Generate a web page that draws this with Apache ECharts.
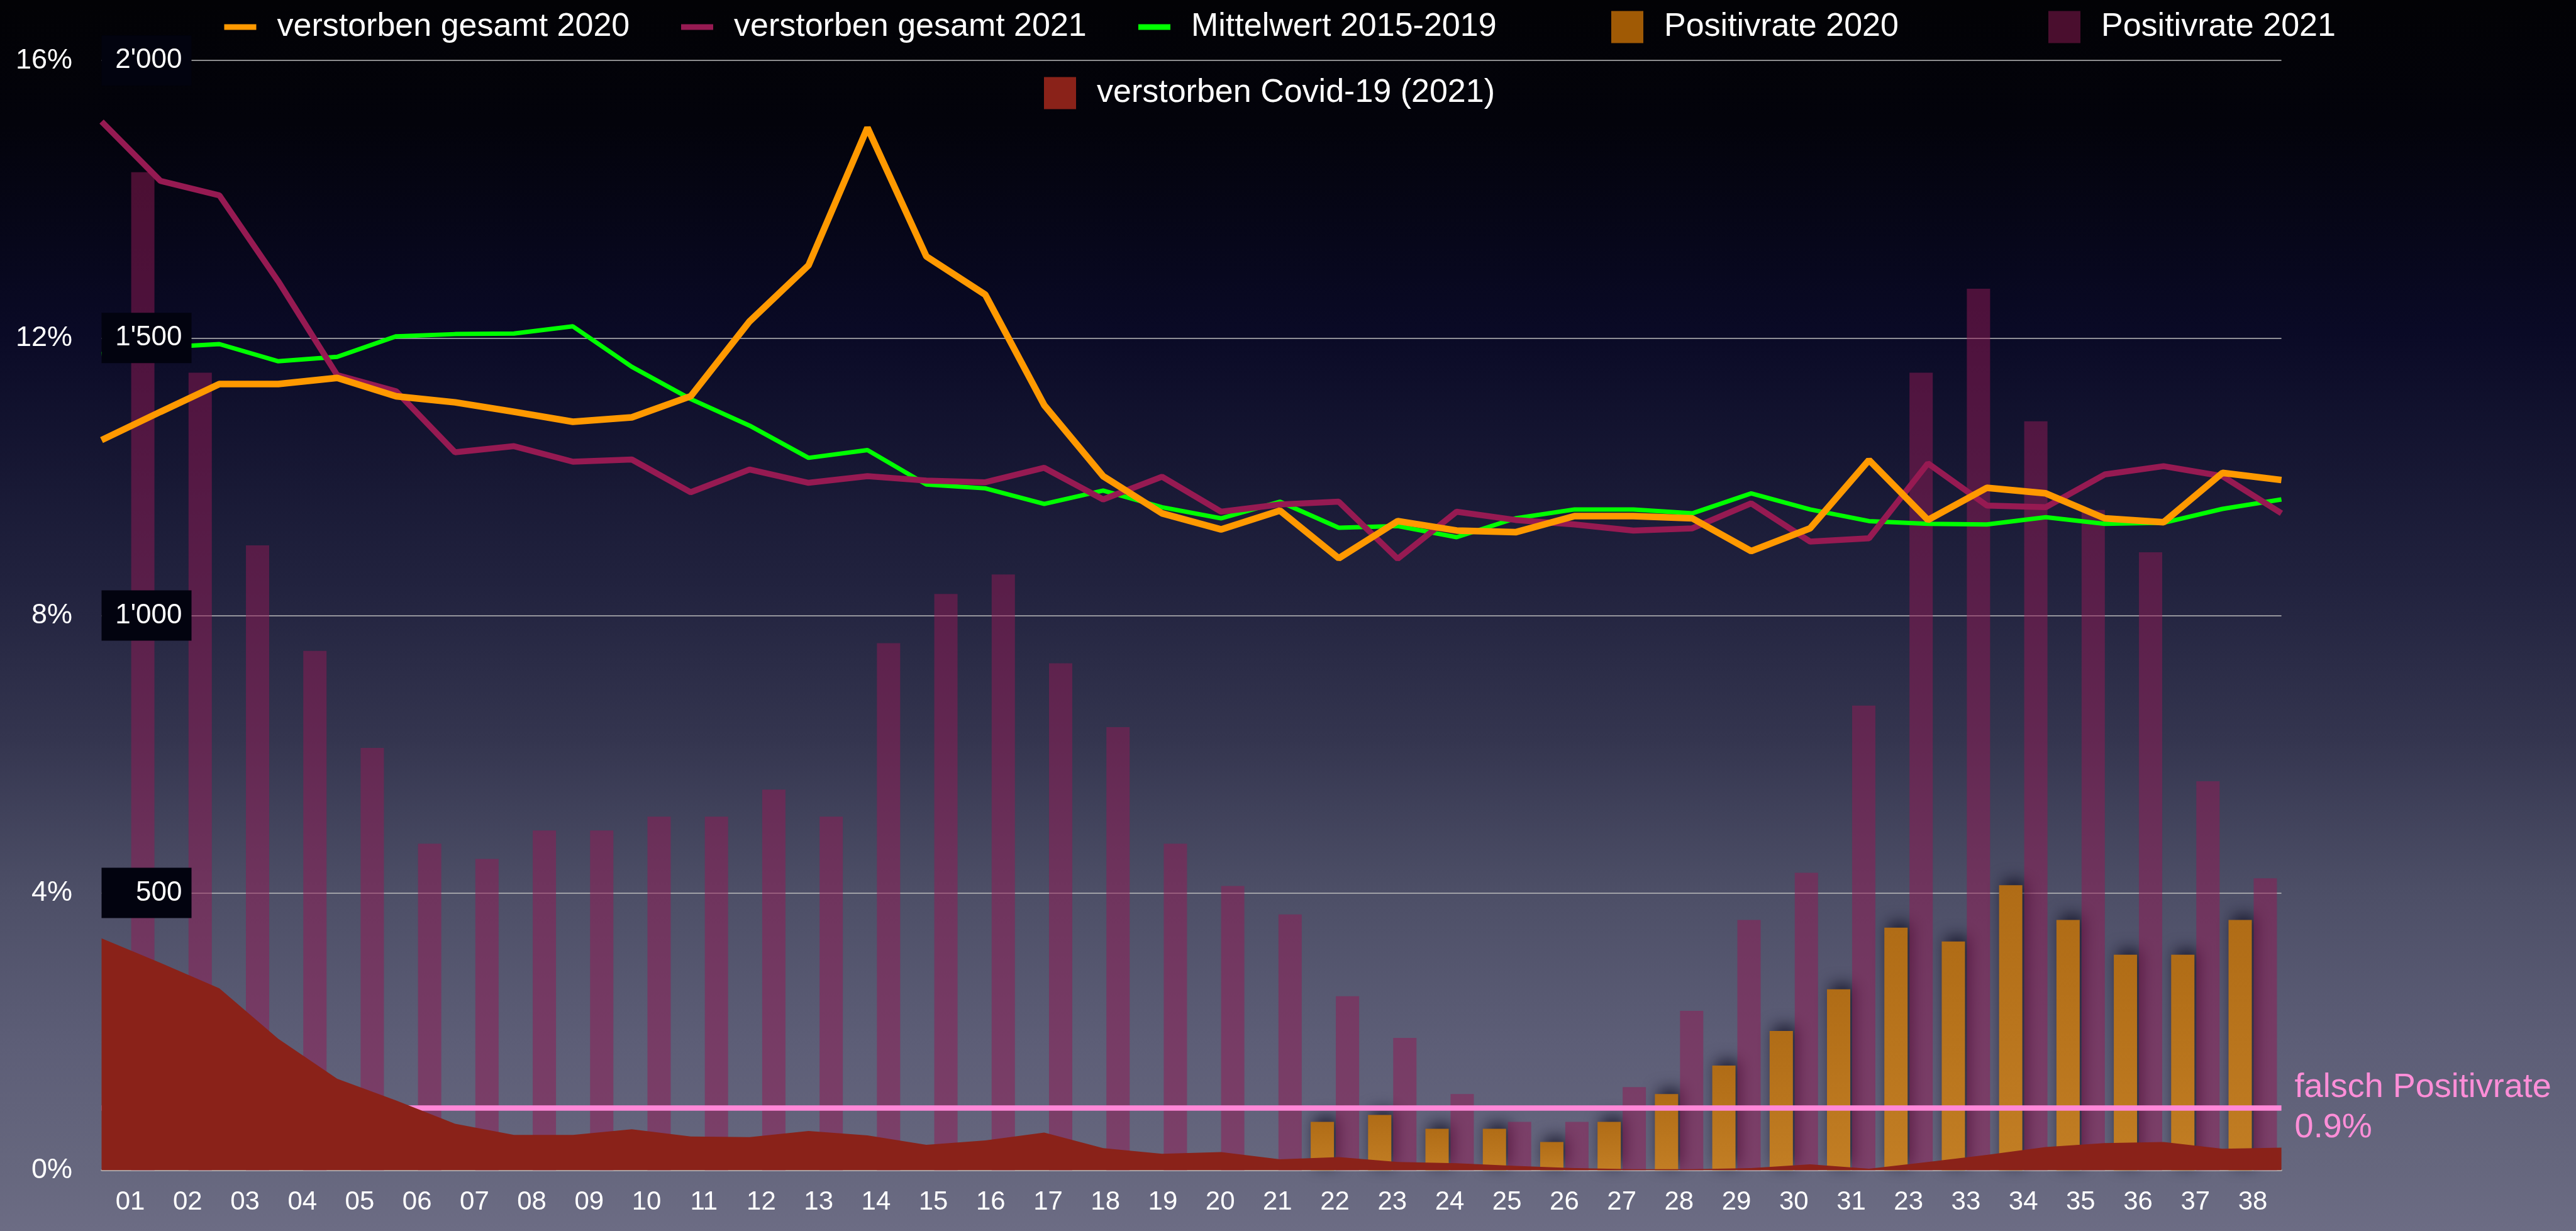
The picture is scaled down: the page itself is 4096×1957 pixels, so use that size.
<!DOCTYPE html>
<html>
<head>
<meta charset="utf-8">
<script src="https://cdn.jsdelivr.net/npm/echarts@6/dist/echarts.min.js"></script>
<style>
html,body{margin:0;padding:0;overflow:hidden;}
#c{width:4096px;height:1957px;background:linear-gradient(to bottom,#020205 0%,#03030b 10%,#0a0a26 27%,#22233f 48%,#34354f 60%,#4c4e66 72%,#5d5e77 85%,#66677e 95%,#6c6c84 100%);}
</style>
</head>
<body>
<div id="c"></div>
<script>
const weeks = ['01','02','03','04','05','06','07','08','09','10','11','12','13','14','15','16','17','18','19','20','21','22','23','24','25','26','27','28','29','30','31','23','33','34','35','36','37','38'];

const gesamt2020 = [1316,1367,1417,1417,1428,1395,1384,1367,1349,1357,1395,1530,1631,1879,1647,1578,1379,1251,1184,1155,1189,1103,1170,1153,1150,1179,1179,1175,1116,1157,1280,1172,1230,1220,1175,1168,1257,1244];
const gesamt2021 = [1890,1783,1757,1602,1433,1404,1294,1305,1277,1281,1222,1263,1239,1251,1243,1240,1266,1209,1250,1187,1200,1205,1102,1187,1172,1164,1153,1157,1202,1133,1139,1274,1198,1195,1254,1269,1251,1184];
const mittel1519 = [1471,1483,1489,1458,1466,1503,1507,1508,1521,1448,1390,1342,1284,1298,1236,1229,1201,1225,1195,1175,1205,1158,1161,1141,1175,1191,1191,1184,1220,1191,1170,1165,1164,1177,1165,1167,1192,1209];
const covid2021 = [418,374,328,237,165,126,84,64,64,74,61,60,71,63,46,54,68,40,30,33,20,24,15,13,8,4,2,2,4,11,3,15,28,42,49,51,39,41];
const pos2020 = [null,null,null,null,null,null,null,null,null,null,null,null,null,null,null,null,null,null,null,null,null,0.70,0.80,0.60,0.60,0.41,0.70,1.10,1.51,2.01,2.61,3.50,3.30,4.11,3.61,3.11,3.11,3.61];
const pos2021 = [14.39,11.5,9.01,7.49,6.09,4.71,4.49,4.90,4.90,5.10,5.10,5.49,5.10,7.60,8.31,8.59,7.31,6.39,4.71,4.10,3.69,2.51,1.91,1.10,0.70,0.70,1.20,2.30,3.61,4.29,6.70,11.50,12.71,10.80,9.52,8.91,5.61,4.21];
const falschPositiv = 0.9;

const FONT = '"Liberation Sans", Arial, Helvetica, sans-serif';

function fmtCount(v){
  if (v < 1000) return String(v);
  const t = Math.floor(v/1000), r = v % 1000;
  return t + "'" + String(r).padStart(3,'0');
}

const legendBase = {
  padding: 0,
  selectedMode: false,
  itemWidth: 51,
  textStyle: {color:'#ffffff', fontSize:52, fontFamily: FONT, padding:[0,0,0,28]}
};
function lg(name, left, top, h, extra){
  const d = Object.assign({name: name}, extra || {});
  return Object.assign({}, legendBase, {data:[d], left:left, top:top, itemHeight:h, icon:'rect'});
}

const chart = echarts.init(document.getElementById('c'), null, {renderer:'canvas'});
chart.setOption({
  animation: false,
  backgroundColor: 'transparent',
  legend: [
    lg('verstorben gesamt 2020', 356.5, 17, 9),
    lg('verstorben gesamt 2021', 1083, 17, 9),
    lg('Mittelwert 2015-2019', 1810, 17, 9),
    lg('Positivrate 2020', 2562, 17, 51, {itemStyle:{color:'#a05a05'}}),
    lg('Positivrate 2021', 3257, 17, 51, {itemStyle:{color:'#4a0e2e'}}),
    lg('verstorben Covid-19 (2021)', 1660, 122, 51)
  ],
  grid: {left:161.5, right:468.4, top:96.2, bottom:96.4},
  xAxis: [
    {type:'category', data:weeks, position:'bottom', boundaryGap:true,
     axisLine:{show:true, lineStyle:{color:'#b4b4b4', width:2.5}},
     axisTick:{show:false},
     axisLabel:{color:'#ffffff', fontSize:42, fontFamily:FONT, margin:30, interval:0}},
    {type:'category', data:weeks, position:'bottom', boundaryGap:false, show:false}
  ],
  yAxis: [
    {type:'value', position:'left', min:0, max:16, interval:4,
     axisLine:{show:false}, axisTick:{show:false},
     splitLine:{show:true, lineStyle:{color:'#bdbdbd', width:1.6}},
     axisLabel:{color:'#ffffff', fontSize:45, fontFamily:FONT, margin:46.5, formatter:'{value}%'}},
    {type:'value', position:'left', min:0, max:2000, interval:500, z:20,
     axisLine:{show:false}, axisTick:{show:false}, splitLine:{show:false},
     axisLabel:{inside:true, showMinLabel:false, margin:143, align:'right',
       color:'#ffffff', fontSize:44, fontFamily:FONT, lineHeight:44,
       backgroundColor:'#02030f', width:128, padding:[18,15,18,0],
       formatter: fmtCount}}
  ],
  series: [
    {name:'Positivrate 2020', type:'bar', xAxisIndex:0, yAxisIndex:0, data:pos2020,
     barWidth:37, barGap:'8%', z:2,
     itemStyle:{color:new echarts.graphic.LinearGradient(0,0,0,1,[{offset:0,color:'#b06c16'},{offset:1,color:'#c27e24'}]),
       shadowColor:'rgba(5,5,25,0.75)', shadowBlur:24, shadowOffsetX:6, shadowOffsetY:-8}},
    {name:'Positivrate 2021', type:'bar', xAxisIndex:0, yAxisIndex:0, data:pos2021,
     barWidth:37, barGap:'8%', z:2,
     itemStyle:{color:'rgba(145,25,84,0.5)'},
     markLine:{silent:true, symbol:'none', z:5, animation:false,
       data:[{yAxis:falschPositiv}],
       lineStyle:{color:'#ff88d8', width:8.6, type:'solid'},
       emphasis:{disabled:true},
       label:{show:true, position:'end', distance:21, formatter:'falsch Positivrate\n0.9%',
         color:'#ff8ed8', fontSize:54, lineHeight:64, fontFamily:FONT, align:'left'}}},
    {name:'verstorben Covid-19 (2021)', type:'line', xAxisIndex:1, yAxisIndex:1, data:covid2021,
     symbol:'none', z:6, color:'#8a2219',
     lineStyle:{width:0, color:'#8a2219'}, areaStyle:{color:'#8a2219', opacity:1}},
    {name:'Mittelwert 2015-2019', type:'line', xAxisIndex:1, yAxisIndex:1, data:mittel1519,
     symbol:'none', z:7, color:'#00ff00', lineStyle:{width:7, color:'#00ff00'}},
    {name:'verstorben gesamt 2021', type:'line', xAxisIndex:1, yAxisIndex:1, data:gesamt2021,
     symbol:'none', z:8, color:'#961a52', lineStyle:{width:9.5, color:'#961a52'}},
    {name:'verstorben gesamt 2020', type:'line', xAxisIndex:1, yAxisIndex:1, data:gesamt2020,
     symbol:'none', z:9, color:'#ff9900', lineStyle:{width:10.5, color:'#ff9900'}}
  ]
});
</script>
</body>
</html>
